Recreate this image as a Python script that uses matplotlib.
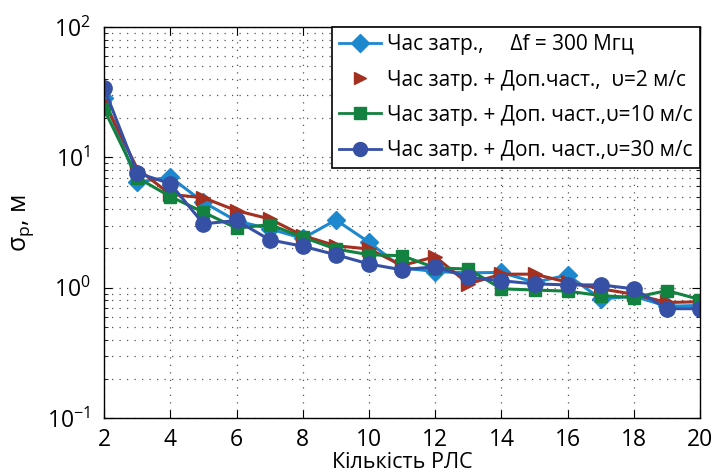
import matplotlib
matplotlib.use("Agg")
import matplotlib.pyplot as plt
from matplotlib.lines import Line2D

plt.rcParams['font.family'] = ['Open Sans', 'DejaVu Sans']
plt.rcParams['mathtext.fontset'] = 'custom'
plt.rcParams['mathtext.rm'] = 'Open Sans'
plt.rcParams['mathtext.it'] = 'Open Sans:italic'
plt.rcParams['mathtext.bf'] = 'Open Sans:bold'

radars = list(range(2, 21))
delay_only = [28.6, 6.45, 7.06, 4.53, 3.25, 2.83, 2.39, 3.31, 2.23, 1.42, 1.33, 1.3, 1.31, 1.1, 1.25, 0.82, 0.86, 0.72, 0.73]
doppler_2 = [26.7, 8.2, 5.2, 4.9, 3.9, 3.37, 2.51, 2.1, 1.98, 1.48, 1.73, 1.07, 1.27, 1.27, 1.1, 0.98, 0.89, 0.77, 0.78]
doppler_10 = [23.4, 7.0, 5.0, 3.8, 2.86, 3.05, 2.44, 1.98, 1.79, 1.76, 1.42, 1.39, 0.98, 0.96, 0.94, 0.87, 0.84, 0.95, 0.81]
doppler_30 = [34.0, 7.6, 6.28, 3.09, 3.28, 2.33, 2.08, 1.79, 1.52, 1.37, 1.45, 1.2, 1.13, 1.07, 1.05, 1.05, 0.98, 0.69, 0.69]

labels = [
    "Час затр.,     \u0394f = 300 Мгц",
    "Час затр. + Доп.част.,  \u03c5=2 м/с",
    "Час затр. + Доп. част.,\u03c5=10 м/с",
    "Час затр. + Доп. част.,\u03c5=30 м/с",
]
colors = ['#1e88cf', '#a33020', '#13813f', '#3550a5']
markers = ['D', '>', 's', 'o']
msizes = [9, 10, 9, 11]
series = [delay_only, doppler_2, doppler_10, doppler_30]

fig = plt.figure(figsize=(7.13, 4.75), dpi=100)
ax = fig.add_axes([0.146, 0.12, 0.836, 0.823])

for vals, c, m, ms in zip(series, colors, markers, msizes):
    ax.plot(radars, vals, color=c, marker=m, markersize=ms, linewidth=2.2,
            markeredgecolor=c, markerfacecolor=c)

ax.set_yscale('log')
ax.set_xlim(2, 20)
ax.set_ylim(0.1, 100)
ax.set_xticks(list(range(2, 21, 2)))
ax.grid(True, which='major', axis='both', linestyle=(0, (1, 5)), color='#555555', linewidth=0.9)
ax.grid(True, which='minor', axis='y', linestyle=(0, (1, 5)), color='#555555', linewidth=0.9)
ax.tick_params(which='both', direction='in', top=True, right=True, labelsize=16.5)
ax.tick_params(which='major', length=6)
ax.tick_params(which='minor', length=3)
ax.tick_params(axis='x', pad=7)
ax.tick_params(axis='y', pad=10)
for s in ax.spines.values():
    s.set_linewidth(1.0)

ax.set_xlabel("Кількість РЛС", fontsize=15.5, labelpad=0)
ax.set_ylabel(r"σ$_{\mathrm{p}}$, м", fontsize=18, labelpad=8)

handles = [
    Line2D([], [], color=colors[0], marker='D', markersize=9, linewidth=2),
    Line2D([], [], color=colors[1], marker='>', markersize=9, linewidth=0),
    Line2D([], [], color=colors[2], marker='s', markersize=9, linewidth=2),
    Line2D([], [], color=colors[3], marker='o', markersize=10, linewidth=2),
]
leg = ax.legend(handles, labels, loc='upper right', fontsize=15, frameon=True,
                fancybox=False, framealpha=1, edgecolor='black',
                borderaxespad=0.0, handlelength=2.0, labelspacing=0.68,
                handletextpad=0.3, borderpad=0.35)
leg.get_frame().set_linewidth(1.2)

fig.savefig("out.png", dpi=100)
